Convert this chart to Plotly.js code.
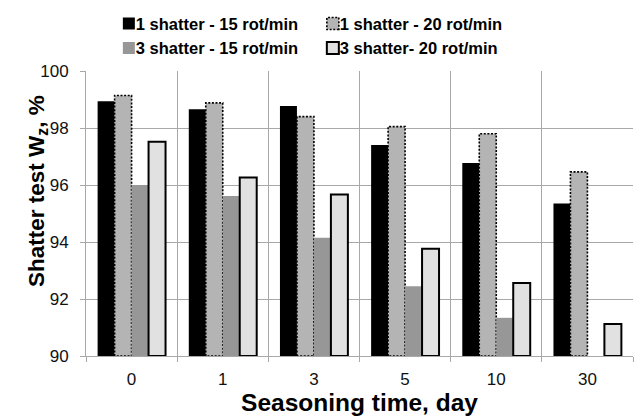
<!DOCTYPE html>
<html>
<head>
<meta charset="utf-8">
<script src="https://cdn.plot.ly/plotly-3.0.1.min.js"></script>
<style>html,body{margin:0;padding:0;background:#fff;}#chart{width:639px;height:417px;}</style>
</head>
<body>
<div id="chart"></div>
<script>
var categories = ['0', '1', '3', '5', '10', '30'];
var seriesNames = ['1 shatter - 15 rot/min', '1 shatter - 20 rot/min', '3 shatter - 15 rot/min', '3 shatter- 20 rot/min'];
var s1_15 = [98.94, 98.66, 98.77, 97.40, 96.77, 95.35];
var s1_20 = [99.14, 98.88, 98.40, 98.05, 97.80, 96.46];
var s3_15 = [96.00, 95.61, 94.15, 92.45, 91.34, null];
var s3_20 = [97.52, 96.26, 95.67, 93.76, 92.56, 91.12];
var yTicks = [90, 92, 94, 96, 98, 100];

var FONT = 'Liberation Sans, Arial, sans-serif';
var baseVal = 90;
function barTrace(name, vals, fill, lineColor, lineWidth) {
  return {
    type: 'bar', name: name, x: categories, y: vals.map(function(v){ return v === null ? null : v - baseVal; }),
    base: baseVal,
    marker: {color: fill, line: {color: lineColor, width: lineWidth}},
    hoverinfo: 'skip'
  };
}
var data = [
  barTrace(seriesNames[0], s1_15, '#000000', '#000000', 0),
  barTrace(seriesNames[1], s1_20, '#b4b4b4', '#000000', 1.6),
  barTrace(seriesNames[2], s3_15, '#979797', '#979797', 0),
  barTrace(seriesNames[3], s3_20, '#e1e1e1', '#000000', 2)
];
var gridColor = '#a8a8a8';
var layout = {
  width: 639, height: 417,
  margin: {l: 86, r: 6, t: 63, b: 61},
  paper_bgcolor: '#ffffff', plot_bgcolor: '#ffffff',
  font: {family: FONT, color: '#000000', size: 17},
  barmode: 'group', bargap: 0.255, bargroupgap: 0,
  showlegend: true,
  legend: {
    orientation: 'h', x: 0.018, xanchor: 'left', y: 1.02, yanchor: 'bottom',
    entrywidth: 159, tracegroupgap: 0,
    font: {family: FONT, size: 16.5, weight: 'bold', color: '#000000'},
    bgcolor: 'rgba(0,0,0,0)'
  },
  xaxis: {
    type: 'category', tickson: 'boundaries', showgrid: true, gridcolor: gridColor, gridwidth: 1,
    showline: true, linecolor: gridColor, linewidth: 1,
    ticks: 'outside', ticklen: 5, tickcolor: gridColor, ticklabelstandoff: 8,
    tickfont: {family: FONT, size: 17, color: '#111111'},
    title: {text: 'Seasoning time, day', font: {family: FONT, size: 24.5, weight: 'bold', color: '#000000'}, standoff: 1},
    automargin: false, fixedrange: true
  },
  yaxis: {
    range: [90, 100], tickvals: yTicks, ticktext: yTicks.map(String),
    showgrid: true, gridcolor: gridColor, gridwidth: 1,
    showline: true, linecolor: gridColor, linewidth: 1,
    ticks: 'outside', ticklen: 5, tickcolor: gridColor, ticklabelstandoff: 8,
    tickfont: {family: FONT, size: 17, color: '#111111'},
    zeroline: false, automargin: false, fixedrange: true
  },
  annotations: [{
    text: 'Shatter test W<sub>z</sub>, %', xref: 'paper', yref: 'paper',
    x: -0.089, xanchor: 'center', y: 0.58, yanchor: 'middle', textangle: -90, showarrow: false,
    font: {family: FONT, size: 22.5, weight: 'bold', color: '#000000'}
  }]
};
Plotly.newPlot('chart', data, layout, {displayModeBar: false, staticPlot: true}).then(function(gd){
  var traces = gd.querySelectorAll('.barlayer .trace.bars');
  if (traces[1]) {
    traces[1].querySelectorAll('path').forEach(function(p){ p.style.strokeDasharray = '2,1.6'; });
  }
  var leg = gd.querySelectorAll('.legend .traces');
  leg.forEach(function(t, i){
    var sym = t.querySelector('.legendsymbols');
    if (sym) sym.setAttribute('transform', 'translate(13,0)');
    if (i === 1) t.querySelectorAll('.legendsymbols path').forEach(function(p){ p.style.strokeDasharray = '2,1.6'; });
  });
});
</script>
</body>
</html>
